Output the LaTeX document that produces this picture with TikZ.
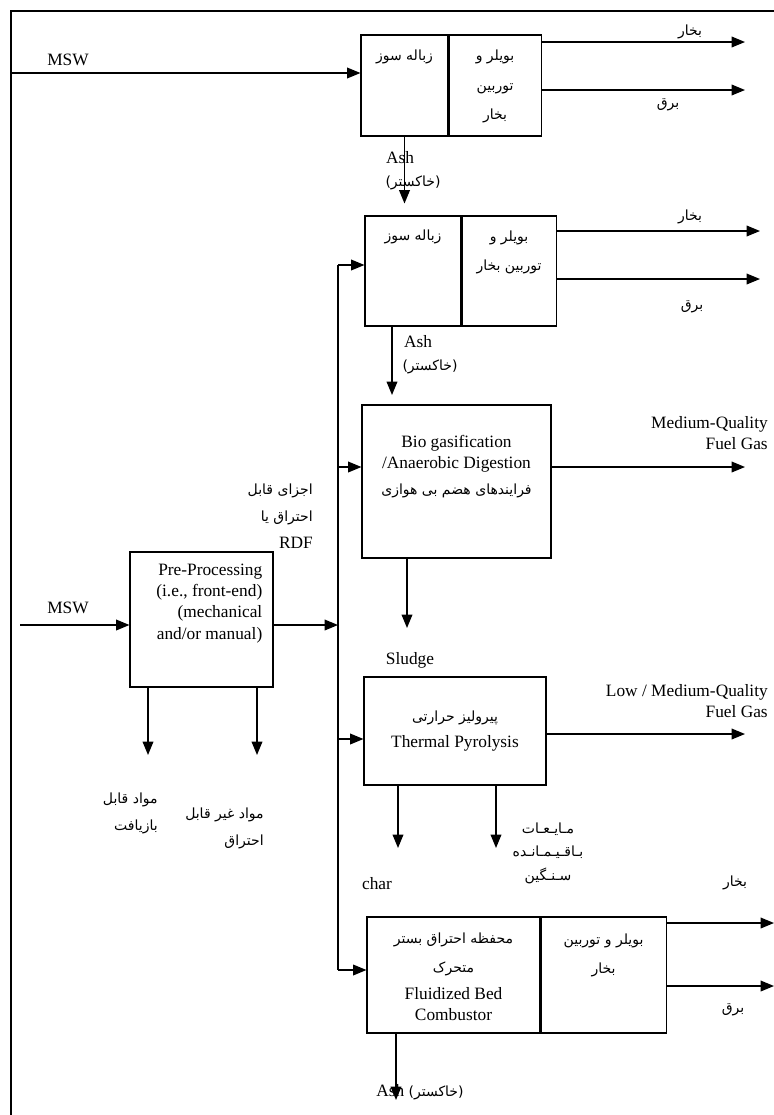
\documentclass[tikz,border=0pt]{standalone}
\usepackage{fontspec}
\setmainfont{Liberation Serif}
\newfontfamily\arabicfont[Script=Arabic]{DejaVu Sans}
\TeXXeTstate=1
\usetikzlibrary{arrows.meta, positioning, calc}
\newcommand{\fa}[1]{{\arabicfont\fontsize{10.5}{12}\selectfont\beginR #1\endR}}

\begin{document}
\begin{tikzpicture}[x=0.75pt,y=-0.75pt,
    box/.style={draw, line width=0.8pt, inner sep=0pt},
    arr/.style={-{Triangle[length=10pt,width=8pt]}, line width=1pt},
    lat/.style={font=\fontsize{13}{16}\selectfont, align=center, inner sep=0pt},
    per/.style={font=\fontsize{10.5}{22}\selectfont, align=center, inner sep=0pt}]
  \useasboundingbox (0,0) rectangle (774,1115);
  % frame
  \draw[line width=1pt] (11,1115) -- (11,11) -- (774,11);

  % incinerator 1
  \node[box, minimum width=65.25pt, minimum height=75.75pt] (b1l) at (404.5,85.5) {};
  \node[box, minimum width=69pt, minimum height=75.75pt, right=0pt of b1l] (b1r) {};
  \node[per] (t1l) at ($(b1l.north)+(0,22)$) {\fa{زباله سوز}};
  \node[per] (t1r) at ($(b1r.north)+(0,52)$) {\fa{بویلر و}\\\fa{توربین}\\\fa{بخار}};
  \coordinate (msw1) at (11,73);
  \draw[arr] (msw1) -- (b1l.west |- msw1);
  \node[lat] (lmsw1) at (68,60) {MSW};
  \coordinate (o1a) at (745,42);
  \coordinate (o1b) at (745,90);
  \draw[arr] (b1r.east |- o1a) -- (o1a);
  \draw[arr] (b1r.east |- o1b) -- (o1b);
  \node[per] (l1a) at (690,32) {\fa{بخار}};
  \node[per] (l1b) at (668,105) {\fa{برق}};
  \draw[arr] (b1l.south) -- ++(0,67);
  \node[lat] (ash1) at (400,158) {Ash};
  \node[per] (ash1f) at (413,183) {\fa{(خاکستر)}};

  % incinerator 2
  \node[box, minimum width=72pt, minimum height=82.5pt] (b2l) at (413,271) {};
  \node[box, minimum width=70.5pt, minimum height=82.5pt, right=0pt of b2l] (b2r) {};
  \node[per] (t2l) at ($(b2l.north)+(0,21)$) {\fa{زباله سوز}};
  \node[per] (t2r) at ($(b2r.north)+(0,37)$) {\fa{بویلر و}\\\fa{توربین بخار}};
  \coordinate (o2a) at (760,231);
  \coordinate (o2b) at (760,279);
  \draw[arr] (b2r.east |- o2a) -- (o2a);
  \draw[arr] (b2r.east |- o2b) -- (o2b);
  \node[per] (l2a) at (690,217) {\fa{بخار}};
  \node[per] (l2b) at (692,307) {\fa{برق}};
  \coordinate (a2) at (392,395);
  \draw[arr] (b2l.south -| a2) -- (a2);
  \node[lat] (ash2) at (418,342) {Ash};
  \node[per] (ash2f) at (430,367) {\fa{(خاکستر)}};

  % bio gasification
  \node[box, minimum width=141.75pt, minimum height=114.75pt] (b3) at (456.5,481.5) {};
  \node[lat] (t3) at ($(b3.center)+(0,-15)$) {Bio gasification\\/Anaerobic Digestion\\[3pt]\fa{فرایندهای هضم بی هوازی}};
  \coordinate (o3) at (745,467);
  \draw[arr] (b3.east |- o3) -- (o3);
  \node[lat, align=right, anchor=east] (l3) at (768,433) {Medium-Quality\\Fuel Gas};
  \coordinate (a3) at (407,628);
  \draw[arr] (b3.south -| a3) -- (a3);
  \node[lat] (sludge) at (410,660) {Sludge};

  % pyrolysis
  \node[box, minimum width=136.5pt, minimum height=81pt] (b4) at (455,731) {};
  \node[lat] (t4) at (b4.center) {\fa{پیرولیز حرارتی}\\[3pt]Thermal Pyrolysis};
  \coordinate (o4) at (745,734);
  \draw[arr] (b4.east |- o4) -- (o4);
  \node[lat, align=right, anchor=east] (l4) at (768,701) {Low / Medium-Quality\\Fuel Gas};
  \coordinate (a4a) at (398,848);
  \coordinate (a4b) at (496,848);
  \draw[arr] (b4.south -| a4a) -- (a4a);
  \draw[arr] (b4.south -| a4b) -- (a4b);
  \node[lat] (char) at (377,884) {char};
  \node[per, font=\fontsize{10.5}{17.6}\selectfont] (oil) at (548,853) {\fa{مـایـعـات}\\\fa{بـاقـیـمـانـده}\\\fa{سـنـگین}};

  % fluidized bed
  \node[box, minimum width=129.75pt, minimum height=87pt] (b5l) at (453.5,975) {};
  \node[box, minimum width=93.75pt, minimum height=87pt, right=0pt of b5l] (b5r) {};
  \node[lat] (t5l) at ($(b5l.center)+(0,2)$) {\fa{محفظه احتراق بستر}\\[6pt]\fa{متحرک}\\[4pt]Fluidized Bed\\Combustor};
  \node[per] (t5r) at ($(b5r.north)+(0,39)$) {\fa{بویلر و توربین}\\\fa{بخار}};
  \coordinate (o5a) at (774,923);
  \coordinate (o5b) at (774,986);
  \draw[arr] (b5r.east |- o5a) -- (o5a);
  \draw[arr] (b5r.east |- o5b) -- (o5b);
  \node[per] (l5a) at (735,883) {\fa{بخار}};
  \node[per] (l5b) at (733,1010) {\fa{برق}};
  \coordinate (a5) at (396,1100);
  \draw[arr] (b5l.south -| a5) -- (a5);
  \node[lat] (ash5) at (420,1092) {Ash \fa{(خاکستر)}};

  % pre-processing and bus
  \node[box, minimum width=107.25pt, minimum height=101.25pt] (pre) at (201.5,619.5) {};
  \node[lat, align=right, anchor=north east] (tpre) at ($(pre.north east)+(-11,12)$) {Pre-Processing\\(i.e., front-end)\\(mechanical\\and/or manual)};
  \coordinate (msw2) at (20,625);
  \draw[arr] (msw2) -- (pre.west |- msw2);
  \node[lat] (lmsw2) at (68,608) {MSW};
  \coordinate (bus2) at (338,265);
  \coordinate (bus3) at (338,467);
  \coordinate (busp) at (338,625);
  \coordinate (bus4) at (338,739);
  \coordinate (bus5) at (338,970);
  \draw[line width=1pt] (bus2) -- (bus5);
  \draw[arr] (pre.east |- busp) -- (busp);
  \draw[arr] (bus2) -- (b2l.west |- bus2);
  \draw[arr] (bus3) -- (b3.west |- bus3);
  \draw[arr] (bus4) -- (b4.west |- bus4);
  \draw[arr] (bus5) -- (b5l.west |- bus5);
  \node[lat, align=right, anchor=north east, font=\fontsize{13}{20}\selectfont] (rdf) at (313,484) {\fa{اجزای قابل}\\\fa{احتراق یا}\\RDF};
  \coordinate (ap1) at (148,755);
  \coordinate (ap2) at (257,755);
  \draw[arr] (pre.south -| ap1) -- (ap1);
  \draw[arr] (pre.south -| ap2) -- (ap2);
  \node[per, font=\fontsize{10.5}{20}\selectfont, align=right, anchor=north east] (rec) at (158,793) {\fa{مواد قابل}\\\fa{بازیافت}};
  \node[per, font=\fontsize{10.5}{20}\selectfont, align=right, anchor=north east] (inert) at (264,808) {\fa{مواد غیر قابل}\\\fa{احتراق}};
\end{tikzpicture}
\end{document}
